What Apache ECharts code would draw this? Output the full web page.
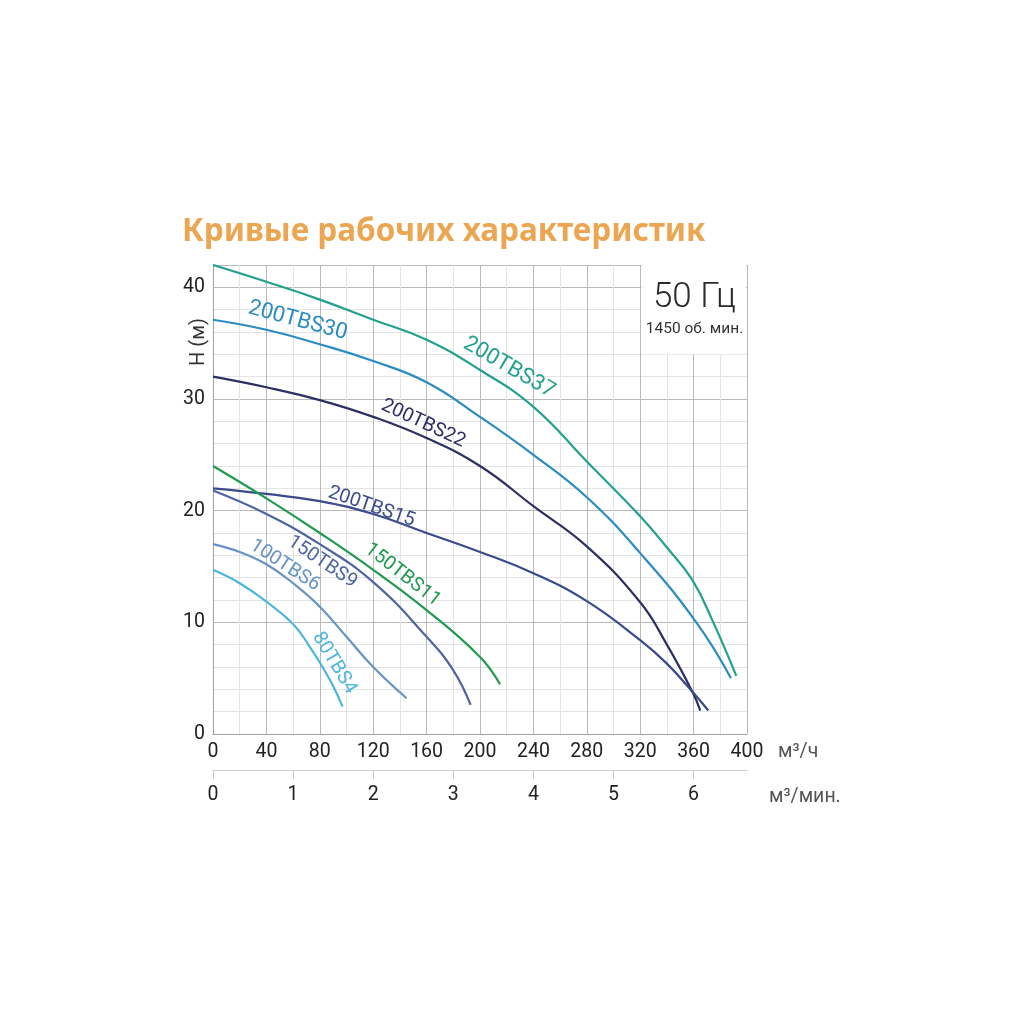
<!DOCTYPE html>
<html>
<head>
<meta charset="utf-8">
<title>Кривые рабочих характеристик</title>
<script src="https://cdn.jsdelivr.net/npm/echarts@6/dist/echarts.min.js"></script>
<style>
  html, body { margin: 0; padding: 0; background: #fff; }
  #chart { width: 1024px; height: 1024px; }
</style>
</head>
<body>
<div id="chart"></div>
<script>
// подача, м3/ч и напор, м для каждой модели
const q37 = [0, 40, 80, 120, 160, 200, 240, 280, 320, 340, 359, 374, 392]
const h37 = [42.0, 40.5, 38.9, 37.1, 35.3, 32.6, 29.3, 24.4, 19.5, 16.7, 13.8, 10.2, 5.2]
const q30 = [0, 40, 80, 120, 160, 200, 240, 280, 320, 362, 388]
const h30 = [37.1, 36.2, 34.9, 33.4, 31.5, 28.4, 25.0, 21.2, 16.2, 10.0, 5.0]
const q22 = [0, 40, 80, 120, 160, 200, 240, 280, 320, 340, 359, 365]
const h22 = [32.0, 31.05, 29.9, 28.4, 26.5, 24.0, 20.4, 16.8, 11.8, 8.0, 3.8, 2.1]
const q15 = [0, 40, 80, 120, 160, 200, 240, 280, 320, 340, 359, 371]
const h15 = [22.0, 21.5, 20.85, 19.7, 18.0, 16.3, 14.4, 11.9, 8.4, 6.3, 3.8, 2.1]
const q11 = [0, 40, 80, 120, 160, 200, 215]
const h11 = [24.0, 21.1, 18.0, 14.7, 11.1, 6.9, 4.45]
const q9 = [0, 40, 80, 120, 160, 180, 193]
const h9 = [21.8, 19.7, 17.0, 13.6, 8.7, 5.7, 2.6]
const q6 = [0, 20, 40, 60, 80, 100, 120, 145]
const h6 = [17.0, 16.3, 15.2, 13.5, 11.4, 8.7, 6.0, 3.2]
const q4 = [0, 20, 40, 60, 72, 82, 90, 97]
const h4 = [14.7, 13.5, 11.85, 9.85, 7.9, 6.0, 4.3, 2.45]

const models = ['200TBS37', '200TBS30', '200TBS22', '200TBS15', '150TBS11', '150TBS9', '100TBS6', '80TBS4']
const flowTicks = [0, 40, 80, 120, 160, 200, 240, 280, 320, 360, 400]
const headTicks = [0, 10, 20, 30, 40]

const colors = ['#22a18e', '#2a8cc2', '#2d2f62', '#3a4a8c', '#1f9a4f', '#4f64a0', '#6593c4', '#4cb6dd']
// подписи кривых: точка центра, наклон, кегль
const tags = [
  { at: [221.8, 32.8], rot: -30, size: 22 },
  { at: [63.5, 37.0], rot: -15, size: 22 },
  { at: [157.5, 27.8], rot: -25, size: 19.5 },
  { at: [118.7, 20.35], rot: -19, size: 19.5 },
  { at: [142, 14.25], rot: -38, size: 19.5 },
  { at: [81.8, 15.4], rot: -34, size: 19.5 },
  { at: [53.8, 15.1], rot: -33, size: 19.5 },
  { at: [90.8, 6.35], rot: -59, size: 19.5 }
]

const flows = [q37, q30, q22, q15, q11, q9, q6, q4]
const heads = [h37, h30, h22, h15, h11, h9, h6, h4]

const zip = (a, b) => a.map((v, i) => [v, b[i]])

const myChart = echarts.init(document.getElementById('chart'))

let series = models.map((name, i) => ({
  name: name,
  type: 'line',
  data: zip(flows[i], heads[i]),
  showSymbol: false,
  smooth: 0.45,
  z: 3,
  lineStyle: { color: colors[i], width: 2.2 },
  itemStyle: { color: colors[i] },
  markPoint: {
    silent: true,
    symbol: 'circle',
    symbolSize: 0,
    data: [{ coord: tags[i].at }],
    label: {
      show: true,
      position: 'inside',
      formatter: name,
      rotate: tags[i].rot,
      color: colors[i],
      fontFamily: 'Roboto',
      fontSize: tags[i].size
    }
  }
}))

// белая плашка под "50 Гц"
series[0].markArea = {
  silent: true,
  itemStyle: { color: '#fff' },
  data: [[{ xAxis: 321, yAxis: 34 }, { xAxis: 399.3, yAxis: 42 }]]
}

const nameStyle = { fontFamily: 'Roboto', fontSize: 19.5, color: '#555', verticalAlign: 'top' }

let option = {
  animation: false,
  backgroundColor: '#fff',
  grid: { left: 213, right: 277, top: 265, bottom: 290 },
  xAxis: [{
    type: 'value',
    min: 0,
    max: 400,
    interval: 40,
    position: 'bottom',
    name: 'м³/ч',
    nameLocation: 'end',
    nameGap: 31,
    nameTextStyle: Object.assign({ padding: [8, 0, 0, 0] }, nameStyle),
    axisLine: { lineStyle: { color: '#a0a0a0', width: 1 } },
    axisTick: { show: false },
    axisLabel: {
      fontFamily: 'Roboto', fontSize: 19.5, color: '#222', margin: 8,
      formatter: v => flowTicks.includes(v) ? String(v) : ''
    },
    splitLine: { lineStyle: { color: '#b9b9b9', width: 1 } },
    minorTick: { show: false, splitNumber: 2 },
    minorSplitLine: { show: true, lineStyle: { color: '#e4e4e4', width: 1 } }
  }, {
    type: 'value',
    min: 0,
    max: 400 / 60,
    interval: 1,
    position: 'bottom',
    offset: 36,
    name: 'м³/мин.',
    nameLocation: 'end',
    nameGap: 22,
    nameTextStyle: Object.assign({ padding: [17, 0, 0, 0] }, nameStyle),
    axisLine: { lineStyle: { color: '#d0d0d0', width: 1 } },
    axisTick: { show: true, length: 9, lineStyle: { color: '#c8c8c8' } },
    axisLabel: { fontFamily: 'Roboto', fontSize: 19.5, color: '#222', margin: 15, showMaxLabel: false },
    splitLine: { show: false }
  }],
  yAxis: {
    type: 'value',
    min: 0,
    max: 42,
    interval: 10,
    axisLine: { show: true, lineStyle: { color: '#a0a0a0', width: 1 } },
    axisTick: { show: false },
    axisLabel: {
      fontFamily: 'Roboto', fontSize: 19.5, color: '#222', margin: 8,
      formatter: v => headTicks.includes(v) ? String(v) : ''
    },
    splitLine: { lineStyle: { color: '#b9b9b9', width: 1 } },
    minorTick: { show: false, splitNumber: 5 },
    minorSplitLine: { show: true, lineStyle: { color: '#e4e4e4', width: 1 } }
  },
  series: series,
  graphic: [
    {
      type: 'text', left: 182, top: 216, z: 100,
      style: { text: 'Кривые рабочих характеристик', fill: '#eca550', font: 'bold 31.5px "Noto Sans"' }
    },
    {
      type: 'text', x: 199, y: 342, rotation: Math.PI / 2, z: 100,
      style: { text: 'H (м)', fill: '#333', font: '20px Roboto', align: 'center', verticalAlign: 'middle' }
    },
    {
      type: 'text', x: 694.5, y: 298, z: 100,
      style: { text: '50 Гц', fill: '#2a2a2a', font: '300 35px Roboto', align: 'center', verticalAlign: 'middle' }
    },
    {
      type: 'text', x: 694.5, y: 329, z: 100,
      style: { text: '1450 об. мин.', fill: '#333', font: '15.5px Roboto', align: 'center', verticalAlign: 'middle' }
    }
  ]
}
myChart.setOption(option)
</script>
</body>
</html>
